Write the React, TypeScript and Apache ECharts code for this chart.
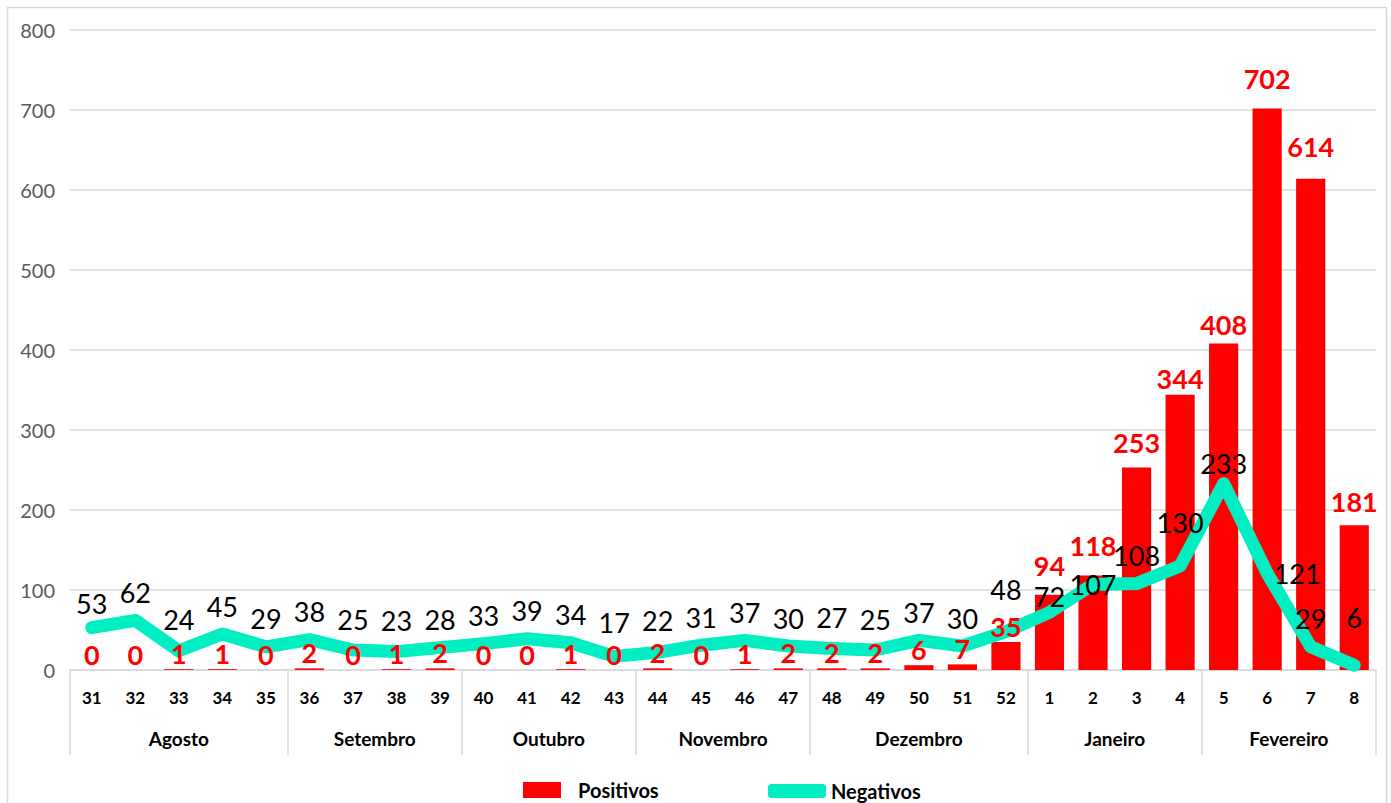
import React, { useEffect, useRef } from 'react';
import * as echarts from 'echarts';

const weeks = ['31', '32', '33', '34', '35', '36', '37', '38', '39', '40', '41', '42', '43', '44', '45', '46', '47', '48', '49', '50', '51', '52', '1', '2', '3', '4', '5', '6', '7', '8'];
const positivos = [0, 0, 1, 1, 0, 2, 0, 1, 2, 0, 0, 1, 0, 2, 0, 1, 2, 2, 2, 6, 7, 35, 94, 118, 253, 344, 408, 702, 614, 181];
const negativos = [53, 62, 24, 45, 29, 38, 25, 23, 28, 33, 39, 34, 17, 22, 31, 37, 30, 27, 25, 37, 30, 48, 72, 107, 108, 130, 233, 121, 29, 6];
const months = ['Agosto', 'Setembro', 'Outubro', 'Novembro', 'Dezembro', 'Janeiro', 'Fevereiro'];
const weeksPerMonth = [5, 4, 4, 4, 5, 4, 4];
const yMax = 800;
const yInterval = 100;

const FONT = 'Lato, "Open Sans", sans-serif';
const RED = '#ff0000';
const TEAL = '#00efc2';

// label placement tweaks (by category index) to mirror the hand-placed labels
const negLabelTweaks: Record<number, any> = {
  0: { distance: 10 },
  2: { distance: 17 },
  6: { distance: 17 },
  7: { distance: 17 },
  12: { distance: 20 },
  13: { distance: 18 },
  17: { distance: 17 },
  18: { distance: 17 },
  21: { distance: 28 },
  22: { distance: 2 },
  23: { position: 'inside' },
  25: { distance: 30 },
  26: { distance: 6 },
  27: { position: 'right', distance: 6 },
  29: { distance: 34 },
};
const posLabelTweaks: Record<number, any> = {
  22: { distance: 16 },
  23: { distance: 17 },
  24: { distance: 12 },
  25: { distance: 3 },
  26: { distance: 6 },
  27: { distance: 16 },
  28: { distance: 19 },
  29: { distance: 10 },
};

export default function App() {
  const ref = useRef<HTMLDivElement>(null);
  useEffect(() => {
    const chart = echarts.init(ref.current as HTMLDivElement, null, { renderer: 'svg' });
    const bounds: number[] = [0];
    weeksPerMonth.forEach((n) => bounds.push(bounds[bounds.length - 1] + n));
    const mids = months.map((_, i) => (bounds[i] + bounds[i + 1]) / 2);
    const negData = negativos.map((v, i) => (negLabelTweaks[i] ? { value: v, label: negLabelTweaks[i] } : v));
    const posLabelData = positivos.map((v, i) => (posLabelTweaks[i] ? { value: v, label: posLabelTweaks[i] } : v));
    chart.setOption({
      animation: false,
      graphic: [
        {
          type: 'rect',
          silent: true,
          z: -10,
          shape: { x: 7.5, y: 7.5, width: 1379, height: 820 },
          style: { fill: 'none', stroke: '#d9d9d9', lineWidth: 1.5 },
        },
      ],
      grid: { left: 70, right: 15, top: 30, bottom: 133, containLabel: false },
      legend: [
        {
          data: [{ name: 'Positivos', icon: 'rect' }],
          left: 518,
          top: 775,
          itemWidth: 38,
          itemHeight: 16,
          textStyle: { fontFamily: FONT, fontWeight: 'bold', fontSize: 20, lineHeight: 20, color: '#000', padding: [0, 0, 0, 12] },
        },
        {
          data: [{ name: 'Negativos', icon: 'roundRect' }],
          left: 763,
          top: 776,
          itemWidth: 58,
          itemHeight: 14,
          textStyle: { fontFamily: FONT, fontWeight: 'bold', fontSize: 20, lineHeight: 20, color: '#000', padding: [0, 0, 0, 0] },
        },
      ],
      xAxis: [
        {
          type: 'category',
          data: weeks,
          position: 'bottom',
          axisLine: { show: true, lineStyle: { color: '#d9d9d9', width: 1.5 } },
          axisTick: { show: false },
          axisLabel: { fontFamily: FONT, fontWeight: 'bold', fontSize: 17, color: '#000', margin: 19, interval: 0 },
          splitLine: { show: false },
        },
        {
          type: 'value',
          min: 0,
          max: weeks.length,
          position: 'bottom',
          axisLine: { show: false },
          axisTick: {
            show: true,
            length: 85,
            customValues: bounds,
            lineStyle: { color: '#d9d9d9', width: 1.5 },
          },
          axisLabel: {
            show: true,
            customValues: mids,
            margin: 59,
            fontFamily: FONT,
            fontWeight: 'bold',
            fontSize: 19,
            color: '#000',
            formatter: (v: number) => {
              const i = mids.findIndex((m) => Math.abs(m - v) < 1e-6);
              return i >= 0 ? months[i] : '';
            },
          },
          splitLine: { show: false },
        },
      ],
      yAxis: {
        type: 'value',
        min: 0,
        max: yMax,
        interval: yInterval,
        axisLine: { show: false },
        axisTick: { show: false },
        axisLabel: { fontFamily: FONT, fontSize: 20, color: '#595959', margin: 15 },
        splitLine: { lineStyle: { color: '#d9d9d9', width: 1.5 } },
      },
      series: [
        {
          name: 'Positivos',
          type: 'bar',
          data: positivos,
          xAxisIndex: 0,
          barCategoryGap: '33%',
          itemStyle: { color: RED },
          z: 2,
        },
        {
          name: 'Negativos',
          type: 'line',
          data: negData,
          xAxisIndex: 0,
          showSymbol: true,
          symbol: 'circle',
          symbolSize: 1,
          color: TEAL,
          lineStyle: { color: TEAL, width: 13, cap: 'round', join: 'round' },
          itemStyle: { color: TEAL },
          label: {
            show: true,
            position: 'top',
            distance: 14,
            fontFamily: FONT,
            fontSize: 27,
            color: '#000',
          },
          labelLayout: { hideOverlap: false },
          z: 3,
        },
        {
          name: 'PositivosLabels',
          type: 'bar',
          data: posLabelData,
          xAxisIndex: 0,
          barCategoryGap: '33%',
          barGap: '-100%',
          itemStyle: { color: 'rgba(0,0,0,0)' },
          label: {
            show: true,
            position: 'top',
            distance: 2,
            fontFamily: FONT,
            fontWeight: 'bold',
            fontSize: 27,
            color: RED,
          },
          z: 4,
          silent: true,
        },
      ],
    });
    return () => chart.dispose();
  }, []);
  return <div ref={ref} style={{ position: 'absolute', left: 0, top: 0, width: 1391, height: 803 }} />;
}
